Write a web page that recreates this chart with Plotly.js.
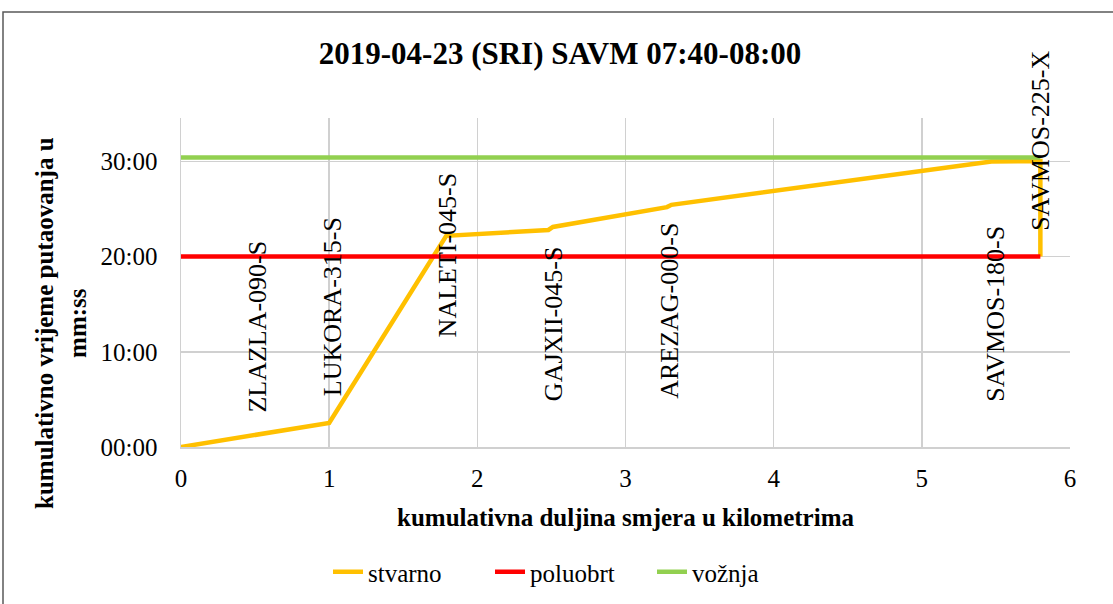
<!DOCTYPE html>
<html>
<head>
<meta charset="utf-8">
<script src="https://cdn.plot.ly/plotly-3.0.1.min.js"></script>
<style>
  html, body { margin: 0; padding: 0; background: #ffffff; }
  #chart { width: 1113px; height: 604px; }
</style>
</head>
<body>
<div id="chart"></div>
<script>
// ---- data (distance in km, cumulative time in minutes) ----
const stvarnoKm  = [0, 0.51, 1.00, 1.79, 2.48, 2.51, 3.28, 3.31, 5.47, 5.80, 5.80];
const stvarnoMin = [0, 1.33, 2.53, 22.18, 22.80, 23.12, 25.20, 25.44, 29.98, 30.05, 20.00];

const poluobrtKm  = [0, 5.80];
const poluobrtMin = [20.00, 20.00];

const voznjaKm  = [0, 5.80];
const voznjaMin = [30.42, 30.42];

const stationNames = ['ZLAZLA-090-S', 'LUKORA-315-S', 'NALETI-045-S', 'GAJXII-045-S',
                      'AREZAG-000-S', 'SAVMOS-180-S', 'SAVMOS-225-X'];
const stationKm = [0.51, 1.02, 1.80, 2.51, 3.30, 5.50, 5.80];
const stationLabelMin = [12.6, 14.7, 20.2, 13.0, 14.3, 14.0, 32.2];

const yTickVals = [0, 10, 20, 30];
const yTickText = ['00:00', '10:00', '20:00', '30:00'];
const xTickVals = [0, 1, 2, 3, 4, 5, 6];

const titleText = '2019-04-23 (SRI) SAVM 07:40-08:00';
const xTitleText = 'kumulativna duljina smjera u kilometrima';
const yTitleText = 'kumulativno vrijeme putaovanja u<br>mm:ss';

// ---- layout helpers ----
const W = 1113, H = 604;
const L = 181, R = 43, T = 118, B = 157;
const plotW = W - L - R, plotH = H - T - B;
const px2paperX = px => (px - L) / plotW;
const py2paperY = py => (H - B - py) / plotH;

const serif = "'Liberation Serif', 'Times New Roman', serif";

const traces = [
  { x: stvarnoKm, y: stvarnoMin, name: 'stvarno', mode: 'lines',
    line: { color: '#FFC000', width: 4.5 } },
  { x: poluobrtKm, y: poluobrtMin, name: 'poluobrt', mode: 'lines',
    line: { color: '#FF0000', width: 4.5 } },
  { x: voznjaKm, y: voznjaMin, name: 'vožnja', mode: 'lines',
    line: { color: '#92D050', width: 4.5 } }
];

const annotations = stationNames.map((name, i) => ({
  x: stationKm[i], y: stationLabelMin[i], xref: 'x', yref: 'y',
  text: name, textangle: -90, showarrow: false,
  xanchor: 'center', yanchor: 'middle',
  font: { family: serif, size: 26, color: '#000000' }
}));

annotations.push({
  x: 0.5, y: py2paperY(517), xref: 'paper', yref: 'paper',
  text: '<b>' + xTitleText + '</b>', showarrow: false,
  xanchor: 'center', yanchor: 'middle',
  font: { family: serif, size: 25, color: '#000000' }
});
annotations.push({
  x: px2paperX(61), y: py2paperY(323), xref: 'paper', yref: 'paper',
  text: '<b>' + yTitleText + '</b>', showarrow: false, textangle: -90,
  xanchor: 'center', yanchor: 'middle',
  font: { family: serif, size: 25, color: '#000000' }
});

const layout = {
  width: W, height: H,
  margin: { l: L, r: R, t: T, b: B },
  font: { family: serif, size: 25, color: '#000000' },
  paper_bgcolor: '#ffffff', plot_bgcolor: '#ffffff',
  title: { text: '<b>' + titleText + '</b>', xref: 'container', yref: 'container',
           x: 560 / W, y: 1 - 53 / H, xanchor: 'center', yanchor: 'middle',
           font: { family: serif, size: 31, color: '#000000' } },
  xaxis: {
    range: [0, 6], tickvals: xTickVals, ticktext: xTickVals.map(String),
    showgrid: true, gridcolor: '#d0d0d0', gridwidth: 1.5,
    zeroline: false, showline: true, linecolor: '#d0d0d0', linewidth: 1.5,
    ticks: '', ticklabelstandoff: 8,
    tickfont: { family: serif, size: 25, color: '#000000' }
  },
  yaxis: {
    range: [0, 34.56], tickvals: yTickVals, ticktext: yTickText,
    showgrid: true, gridcolor: '#d0d0d0', gridwidth: 1.5,
    zeroline: false, showline: true, linecolor: '#d0d0d0', linewidth: 1.5,
    ticks: '', ticklabelstandoff: 17,
    tickfont: { family: serif, size: 25, color: '#000000' }
  },
  showlegend: true,
  legend: {
    orientation: 'h', xref: 'container', yref: 'container',
    x: 328 / W, y: 1 - 572 / H, xanchor: 'left', yanchor: 'middle',
    entrywidth: 117, entrywidthmode: 'pixels',
    font: { family: serif, size: 25, color: '#000000' },
    bgcolor: 'rgba(0,0,0,0)'
  },
  annotations: annotations,
  shapes: [{
    type: 'rect', xref: 'paper', yref: 'paper',
    x0: px2paperX(3), x1: px2paperX(1125),
    y0: py2paperY(640), y1: py2paperY(12),
    line: { color: '#595959', width: 1.5 }, fillcolor: 'rgba(0,0,0,0)', layer: 'below'
  }]
};

Plotly.newPlot('chart', traces, layout, { displayModeBar: false, staticPlot: true });
</script>
</body>
</html>
